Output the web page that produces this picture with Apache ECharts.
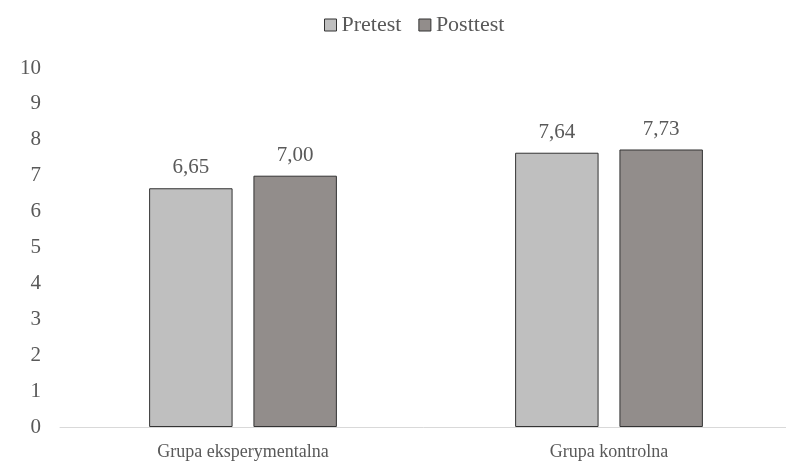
<!DOCTYPE html>
<html>
<head>
<meta charset="utf-8">
<script src="https://cdn.jsdelivr.net/npm/echarts@6/dist/echarts.min.js"></script>
<style>
  html, body { margin: 0; padding: 0; background: #fff; }
  #chart { width: 786px; height: 464px; }
</style>
</head>
<body>
<div id="chart"></div>
<script>
// ----------data----------
const categories = ['Grupa eksperymentalna', 'Grupa kontrolna'];
const pretest = [6.65, 7.64];
const posttest = [7.0, 7.73];
const yTicks = [0, 10, 1]; // min, max, interval

// ----------chart----------
const chart = echarts.init(document.getElementById('chart'));
const font = 'Liberation Serif, Times New Roman, serif';
const textColor = '#595959';

const commaLabel = (p) => p.value.toFixed(2).replace('.', ',');

chart.setOption({
  backgroundColor: '#fff',
  textStyle: { fontFamily: font },
  legend: {
    top: 9,
    left: 319,
    icon: 'rect',
    itemWidth: 12,
    itemHeight: 12,
    itemGap: 17,
    itemStyle: { borderColor: '#333', borderWidth: 1 },
    textStyle: { fontFamily: font, fontSize: 22, color: textColor },
    data: ['Pretest', 'Posttest'],
  },
  grid: { left: 60, width: 732, top: 68, bottom: 37, outerBoundsMode: 'none' },
  xAxis: {
    type: 'category',
    data: categories,
    axisLine: { lineStyle: { color: '#d9d9d9' } },
    axisTick: { show: false },
    axisLabel: { fontFamily: font, fontSize: 18, color: textColor, margin: 16 },
  },
  yAxis: {
    type: 'value',
    min: yTicks[0],
    max: yTicks[1],
    interval: yTicks[2],
    splitLine: { show: false },
    axisLine: { show: false },
    axisTick: { show: false },
    axisLabel: { fontFamily: font, fontSize: 21, color: textColor, margin: 19 },
  },
  series: [
    {
      name: 'Pretest',
      type: 'bar',
      data: pretest,
      barWidth: '22.8%',
      barGap: '25%',
      itemStyle: { color: '#bfbfbf', borderColor: '#333', borderWidth: 1 },
      label: { show: true, position: 'top', distance: 10, formatter: commaLabel, fontFamily: font, fontSize: 21, color: textColor },
    },
    {
      name: 'Posttest',
      type: 'bar',
      data: posttest,
      barWidth: '22.8%',
      itemStyle: { color: '#928d8b', borderColor: '#333', borderWidth: 1 },
      label: { show: true, position: 'top', distance: 10, formatter: commaLabel, fontFamily: font, fontSize: 21, color: textColor },
    },
  ],
});
</script>
</body>
</html>
